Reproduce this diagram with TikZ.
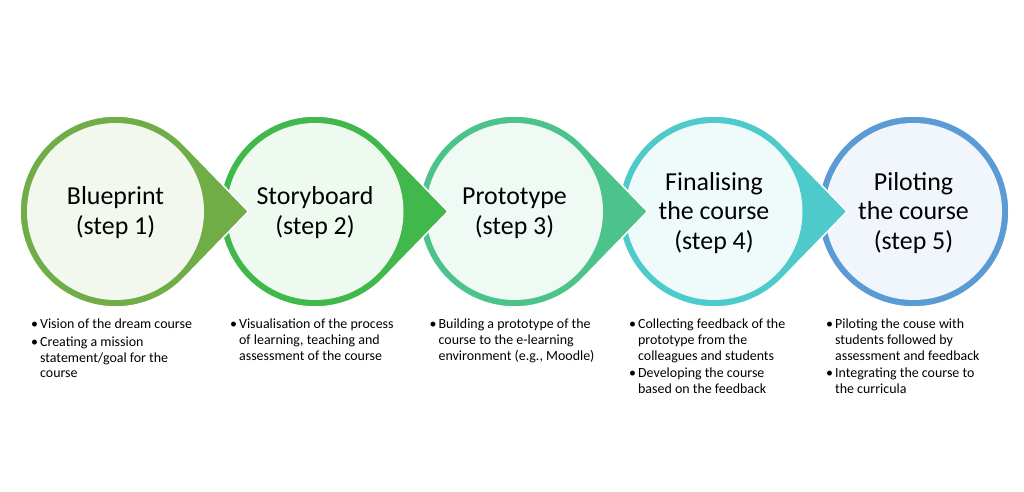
\documentclass[tikz,border=0pt]{standalone}
\usepackage{fontspec}
\setmainfont{Carlito}
\usepackage{tikz}

\definecolor{ringA}{HTML}{70AD47}
\definecolor{ringB}{HTML}{41B84C}
\definecolor{ringC}{HTML}{4CC38B}
\definecolor{ringD}{HTML}{4FCACA}
\definecolor{ringE}{HTML}{5B9BD5}

\begin{document}
\begin{tikzpicture}[x=1bp, y=1bp,
	drop/.style={draw=white, line width=1.5bp},
	steplabel/.style={align=center, inner sep=0pt, font=\fontsize{26}{30}\selectfont},
	notes/.style={anchor=base west, inner sep=0pt, font=\fontsize{14}{15.7}\selectfont}]
	
	% Page
	\fill[white] (0,0) rectangle (1024,492);
	\useasboundingbox (0,0) rectangle (1024,492);
	
	% Step 5 (no pointer)
	\fill[drop, fill=ringE] (913.5,280.5) circle[radius=95.5];
	\fill[ringE!9!white] (913.5,280.5) circle[radius=88.5];
	
	% Step 4
	\fill[drop, fill=ringD] (714,280.5) ++(44:95.5) arc[start angle=44, end angle=316, radius=95.5] -- (714+133,280.5) -- cycle;
	\fill[ringD!9!white] (714,280.5) circle[radius=88.5];
	
	% Step 3
	\fill[drop, fill=ringC] (514.5,280.5) ++(44:95.5) arc[start angle=44, end angle=316, radius=95.5] -- (514.5+133,280.5) -- cycle;
	\fill[ringC!9!white] (514.5,280.5) circle[radius=88.5];
	
	% Step 2
	\fill[drop, fill=ringB] (315,280.5) ++(44:95.5) arc[start angle=44, end angle=316, radius=95.5] -- (315+133,280.5) -- cycle;
	\fill[ringB!9!white] (315,280.5) circle[radius=88.5];
	
	% Step 1
	\fill[drop, fill=ringA] (115.5,280.5) ++(44:95.5) arc[start angle=44, end angle=316, radius=95.5] -- (115.5+133,280.5) -- cycle;
	\fill[ringA!9!white] (115.5,280.5) circle[radius=88.5];
	
	% Step names
	\node[steplabel] (blueprint) at (115.5,279) {Blueprint\\(step 1)};
	\node[steplabel] (storyboard) at (315,279) {Storyboard\\(step 2)};
	\node[steplabel] (prototype) at (514.5,279) {Prototype\\(step 3)};
	\node[steplabel] (finalising) at (714,279) {Finalising\\the course\\(step 4)};
	\node[steplabel] (piloting) at (913.5,279) {Piloting\\the course\\(step 5)};
	
	% Notes under the steps
	\node[notes] (blueprint-notes) at (31,163) {\begin{tabular}[t]{@{}l@{\hspace{2pt}}l@{}}
		\textbullet & Vision of the dream course\\[2pt]
		\textbullet & Creating a mission\\
		& statement/goal for the\\
		& course
	\end{tabular}};
	\node[notes] (storyboard-notes) at (230,163) {\begin{tabular}[t]{@{}l@{\hspace{2pt}}l@{}}
		\textbullet & Visualisation of the process\\
		& of learning, teaching and\\
		& assessment of the course
	\end{tabular}};
	\node[notes] (prototype-notes) at (429.5,163) {\begin{tabular}[t]{@{}l@{\hspace{2pt}}l@{}}
		\textbullet & Building a prototype of the\\
		& course to the e-learning\\
		& environment (e.g., Moodle)
	\end{tabular}};
	\node[notes] (finalising-notes) at (629,163) {\begin{tabular}[t]{@{}l@{\hspace{2pt}}l@{}}
		\textbullet & Collecting feedback of the\\
		& prototype from the\\
		& colleagues and students\\[2pt]
		\textbullet & Developing the course\\
		& based on the feedback
	\end{tabular}};
	\node[notes] (piloting-notes) at (826,163) {\begin{tabular}[t]{@{}l@{\hspace{2pt}}l@{}}
		\textbullet & Piloting the couse with\\
		& students followed by\\
		& assessment and feedback\\[2pt]
		\textbullet & Integrating the course to\\
		& the curricula
	\end{tabular}};
	
\end{tikzpicture}
\end{document}
